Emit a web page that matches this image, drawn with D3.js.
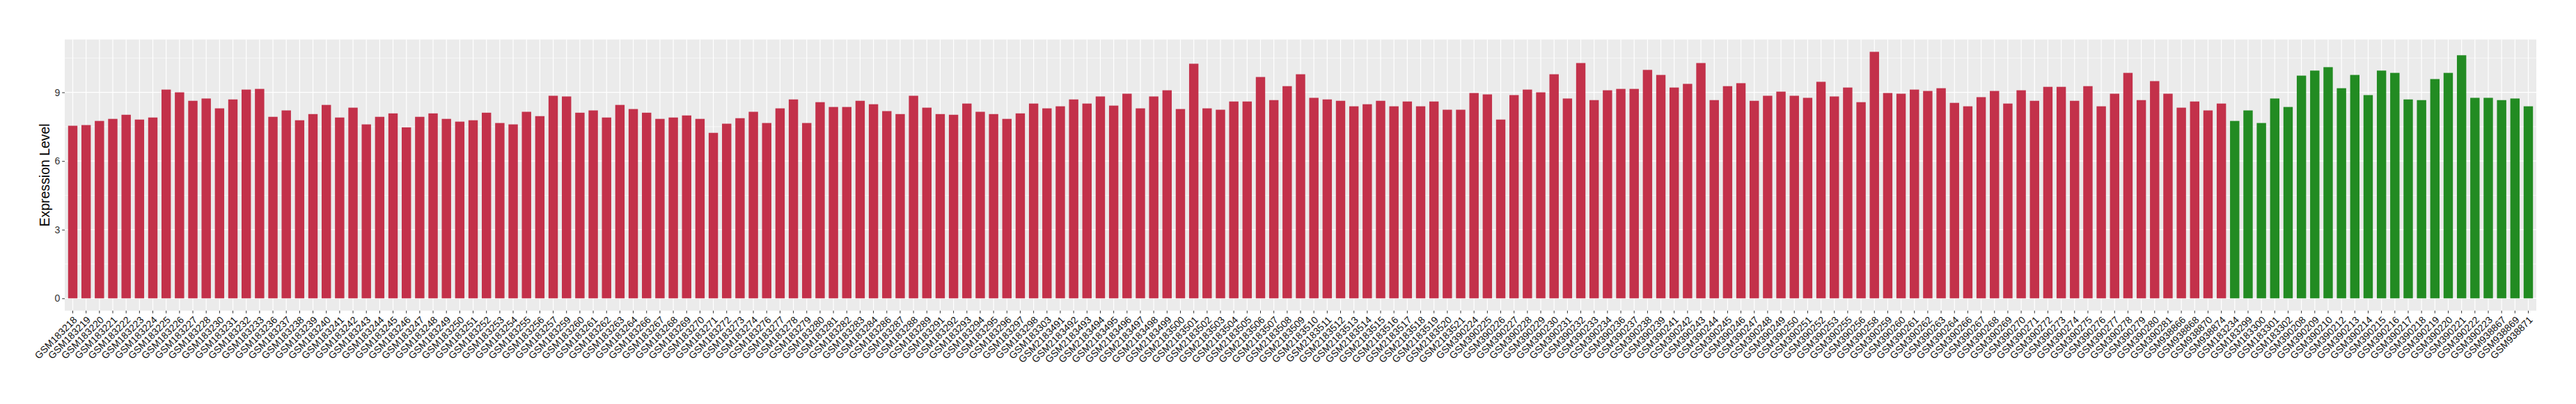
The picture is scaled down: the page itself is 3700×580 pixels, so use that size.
<!DOCTYPE html>
<html>
<head>
<meta charset="utf-8">
<script src="https://cdn.jsdelivr.net/npm/d3@7"></script>
<style>
  body { margin: 0; background: #fff; }
  text { font-family: "Liberation Sans", Arial, sans-serif; }
</style>
</head>
<body>
<div id="chart"></div>
<script>
// Samples and expression values
var redSamples = [
  "GSM183218","GSM183219","GSM183220","GSM183221","GSM183222","GSM183223","GSM183224","GSM183225","GSM183226","GSM183227",
  "GSM183228","GSM183230","GSM183231","GSM183232","GSM183233","GSM183236","GSM183237","GSM183238","GSM183239","GSM183240",
  "GSM183241","GSM183242","GSM183243","GSM183244","GSM183245","GSM183246","GSM183247","GSM183248","GSM183249","GSM183250",
  "GSM183251","GSM183252","GSM183253","GSM183254","GSM183255","GSM183256","GSM183257","GSM183259","GSM183260","GSM183261",
  "GSM183262","GSM183263","GSM183264","GSM183266","GSM183267","GSM183268","GSM183269","GSM183270","GSM183271","GSM183272",
  "GSM183273","GSM183274","GSM183276","GSM183277","GSM183278","GSM183279","GSM183280","GSM183281","GSM183282","GSM183283",
  "GSM183284","GSM183286","GSM183287","GSM183288","GSM183289","GSM183291","GSM183292","GSM183293","GSM183294","GSM183295",
  "GSM183296","GSM183297","GSM183298","GSM183303",
  "GSM2183491","GSM2183492","GSM2183493","GSM2183494","GSM2183495","GSM2183496","GSM2183497","GSM2183498","GSM2183499","GSM2183500",
  "GSM2183501","GSM2183502","GSM2183503","GSM2183504","GSM2183505","GSM2183506","GSM2183507","GSM2183508","GSM2183509","GSM2183510",
  "GSM2183511","GSM2183512","GSM2183513","GSM2183514","GSM2183515","GSM2183516","GSM2183517","GSM2183518","GSM2183519","GSM2183520",
  "GSM2183521",
  "GSM390224","GSM390225","GSM390226","GSM390227","GSM390228","GSM390229","GSM390230","GSM390231","GSM390232","GSM390233",
  "GSM390234","GSM390236","GSM390237","GSM390238","GSM390239","GSM390241","GSM390242","GSM390243","GSM390244","GSM390245",
  "GSM390246","GSM390247","GSM390248","GSM390249","GSM390250","GSM390251","GSM390252","GSM390253","GSM390255","GSM390256",
  "GSM390258","GSM390259","GSM390260","GSM390261","GSM390262","GSM390263","GSM390264","GSM390266","GSM390267","GSM390268",
  "GSM390269","GSM390270","GSM390271","GSM390272","GSM390273","GSM390274","GSM390275","GSM390276","GSM390277","GSM390278",
  "GSM390279","GSM390280","GSM390281","GSM938866","GSM938868","GSM938870","GSM938874"
];
var redLevels = [
  7.54, 7.57, 7.75, 7.84, 8.02, 7.81, 7.90, 9.12, 9.00, 8.63,
  8.73, 8.30, 8.69, 9.12, 9.15, 7.93, 8.21, 7.78, 8.05, 8.45,
  7.90, 8.33, 7.60, 7.93, 8.08, 7.47, 7.93, 8.08, 7.84, 7.72,
  7.78, 8.11, 7.66, 7.60, 8.15, 7.96, 8.85, 8.82, 8.11, 8.21,
  7.90, 8.45, 8.27, 8.11, 7.84, 7.90, 7.99, 7.84, 7.23, 7.63,
  7.87, 8.15, 7.66, 8.30, 8.69, 7.66, 8.57, 8.36, 8.36, 8.63,
  8.48, 8.18, 8.05, 8.85, 8.33, 8.05, 8.02, 8.51, 8.15, 8.05,
  7.84, 8.08, 8.51, 8.30,
  8.39, 8.69, 8.51, 8.82, 8.42, 8.94, 8.30, 8.82, 9.09, 8.27,
  10.25, 8.30, 8.24, 8.60, 8.60, 9.67, 8.66, 9.27, 9.79, 8.76,
  8.69, 8.63, 8.39, 8.48, 8.63, 8.39, 8.60, 8.39, 8.60, 8.24,
  8.24,
  8.97, 8.91, 7.81, 8.88, 9.12, 9.00, 9.79, 8.73, 10.28, 8.66,
  9.09, 9.15, 9.15, 9.98, 9.76, 9.21, 9.37, 10.28, 8.66, 9.27,
  9.40, 8.63, 8.85, 9.03, 8.85, 8.76, 9.46, 8.82, 9.21, 8.57,
  10.77, 8.97, 8.94, 9.12, 9.06, 9.18, 8.54, 8.39, 8.79, 9.06,
  8.51, 9.09, 8.63, 9.24, 9.24, 8.63, 9.27, 8.39, 8.94, 9.85,
  8.66, 9.49, 8.94, 8.33, 8.60, 8.21, 8.51
];
var greenSamples = [
  "GSM183234","GSM183299","GSM183300","GSM183301","GSM183302","GSM390208","GSM390209","GSM390210","GSM390212","GSM390213",
  "GSM390214","GSM390215","GSM390216","GSM390217","GSM390218","GSM390219","GSM390220","GSM390221","GSM390222","GSM390223",
  "GSM938867","GSM938869","GSM938871"
];
var greenLevels = [
  7.75, 8.21, 7.66, 8.73, 8.36, 9.73, 9.95, 10.10, 9.18, 9.76,
  8.88, 9.95, 9.85, 8.69, 8.66, 9.58, 9.85, 10.62, 8.76, 8.76,
  8.66, 8.73, 8.39
];
var yTicks = [0, 3, 6, 9];
var yMinor = [1.5, 4.5, 7.5, 10.5];

var redColor = "#C3314A";
var greenColor = "#228B22";

// Combine into rows
var data = [];
redSamples.forEach(function(s, i) {
  data.push({ sample: s, value: redLevels[i], color: redColor });
});
greenSamples.forEach(function(s, i) {
  data.push({ sample: s, value: greenLevels[i], color: greenColor });
});

var width = 3700;
var height = 580;
var panelLeft = 93;
var panelRight = 3643;
var panelTop = 56.7;
var panelBottom = 446;

var svg = d3.select("#chart")
  .append("svg")
  .attr("width", width)
  .attr("height", height);

// Scales (ggplot style expansion)
var xScale = d3.scaleBand()
  .domain(data.map(function(d) { return d.sample; }))
  .range([panelLeft, panelRight])
  .paddingInner(0.3)
  .paddingOuter(0.25);

var yMax = d3.max(data, function(d) { return d.value; });
var yScale = d3.scaleLinear()
  .domain([-0.05 * yMax, 1.05 * yMax])
  .range([panelBottom, panelTop]);

// Panel background + grid
svg.append("rect")
  .attr("x", panelLeft)
  .attr("y", panelTop)
  .attr("width", panelRight - panelLeft)
  .attr("height", panelBottom - panelTop)
  .attr("fill", "#EBEBEB");

svg.append("g").selectAll("line")
  .data(yMinor)
  .enter().append("line")
  .attr("x1", panelLeft).attr("x2", panelRight)
  .attr("y1", function(d) { return yScale(d); })
  .attr("y2", function(d) { return yScale(d); })
  .attr("stroke", "#fff").attr("stroke-width", 0.6);

svg.append("g").selectAll("line")
  .data(yTicks)
  .enter().append("line")
  .attr("x1", panelLeft).attr("x2", panelRight)
  .attr("y1", function(d) { return yScale(d); })
  .attr("y2", function(d) { return yScale(d); })
  .attr("stroke", "#fff").attr("stroke-width", 1.2);

svg.append("g").selectAll("line")
  .data(data)
  .enter().append("line")
  .attr("x1", function(d) { return xScale(d.sample) + xScale.bandwidth() / 2; })
  .attr("x2", function(d) { return xScale(d.sample) + xScale.bandwidth() / 2; })
  .attr("y1", panelTop).attr("y2", panelBottom)
  .attr("stroke", "#fff").attr("stroke-width", 1.2);

// Bars
svg.append("g").selectAll("rect")
  .data(data)
  .enter().append("rect")
  .attr("x", function(d) { return xScale(d.sample); })
  .attr("y", function(d) { return yScale(d.value); })
  .attr("width", xScale.bandwidth())
  .attr("height", function(d) { return yScale(0) - yScale(d.value); })
  .attr("fill", function(d) { return d.color; });

// Y axis
var yAxis = d3.axisLeft(yScale)
  .tickValues(yTicks)
  .tickSize(3.8)
  .tickPadding(3)
  .tickFormat(d3.format("d"));

var yG = svg.append("g")
  .attr("transform", "translate(" + panelLeft + ",0)")
  .call(yAxis);
yG.select(".domain").remove();
yG.selectAll(".tick line").attr("stroke", "#333");
yG.selectAll(".tick text")
  .attr("font-size", "14px")
  .attr("fill", "#333")
  .style("font-family", "Liberation Sans, Arial, sans-serif");

// X axis
var xAxis = d3.axisBottom(xScale).tickSize(3.8).tickSizeOuter(0);
var xG = svg.append("g")
  .attr("transform", "translate(0," + panelBottom + ")")
  .call(xAxis);
xG.select(".domain").remove();
xG.selectAll(".tick line").attr("stroke", "#333");
xG.selectAll(".tick text")
  .attr("font-size", "14.1px")
  .attr("fill", "#111")
  .style("font-family", "Liberation Sans, Arial, sans-serif")
  .attr("text-anchor", "end")
  .attr("x", 0)
  .attr("y", 7)
  .attr("dy", "0.72em")
  .attr("transform", "rotate(-45,0,7)");

// Y title
svg.append("text")
  .attr("transform", "translate(70.6," + ((panelTop + panelBottom) / 2) + ")rotate(-90)")
  .attr("text-anchor", "middle")
  .attr("font-size", "19.4px")
  .attr("fill", "#000")
  .text("Expression Level");
</script>
</body>
</html>
